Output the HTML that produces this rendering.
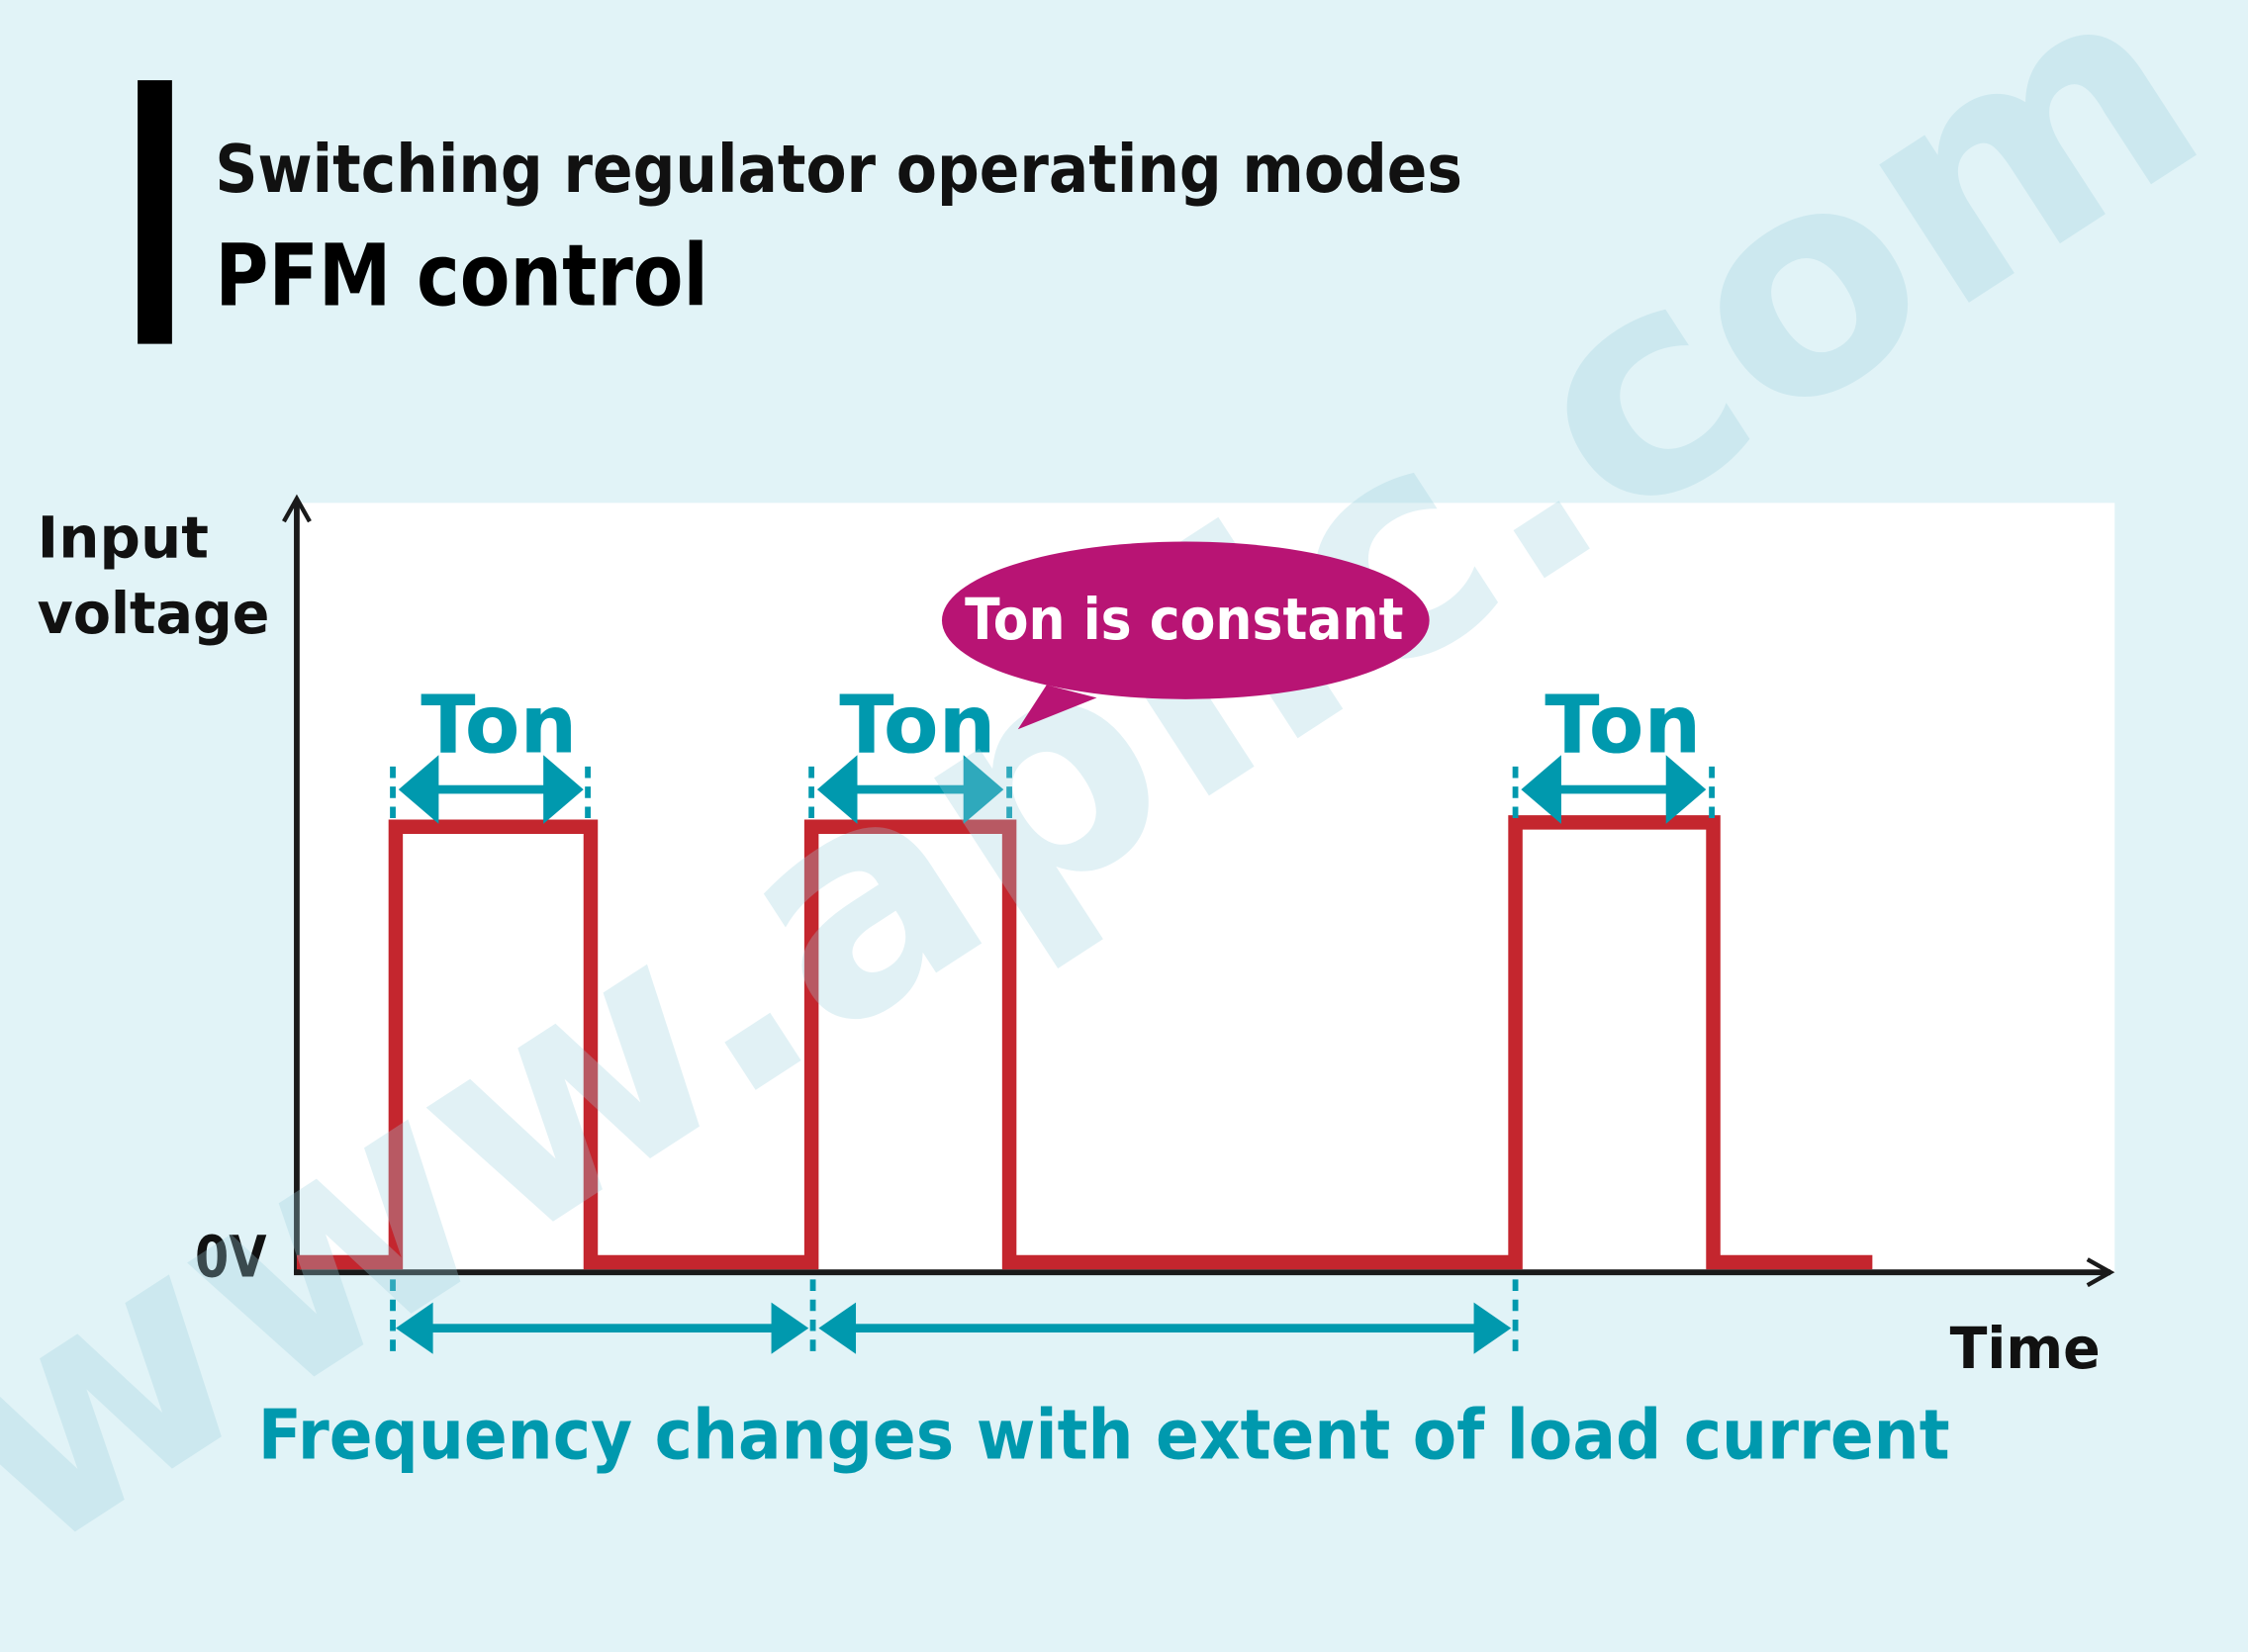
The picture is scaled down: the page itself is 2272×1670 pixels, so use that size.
<!DOCTYPE html>
<html><head><meta charset="utf-8"><style>
html,body{margin:0;padding:0;background:#e1f3f7;}
svg{display:block;}
text{font-family:"DejaVu Sans","Liberation Sans",sans-serif;font-weight:bold;}
</style></head><body>
<svg width="2272" height="1670" viewBox="0 0 1568 1153" preserveAspectRatio="none" xmlns="http://www.w3.org/2000/svg">
<rect width="1568" height="1153" fill="#e1f3f7"/>
<rect x="96" y="56" width="24" height="184" fill="#000"/>
<text x="150" y="134" font-size="46" fill="#111" textLength="870" lengthAdjust="spacingAndGlyphs">Switching regulator operating modes</text>
<text x="150" y="213" font-size="60" fill="#000" textLength="344" lengthAdjust="spacingAndGlyphs">PFM control</text>
<rect x="207" y="351" width="1268" height="537" fill="#fff"/>
<text x="26" y="389" font-size="40" fill="#111">Input</text>
<text x="26" y="442" font-size="40" fill="#111" textLength="162" lengthAdjust="spacingAndGlyphs">voltage</text>
<text x="136" y="891" font-size="40" fill="#111" textLength="50" lengthAdjust="spacingAndGlyphs">0V</text>
<text x="1360" y="955" font-size="40" fill="#111" textLength="105" lengthAdjust="spacingAndGlyphs">Time</text>
<line x1="207" y1="350" x2="207" y2="889" stroke="#1a1a1a" stroke-width="4"/>
<polyline points="198,364 207,348 216,364" fill="none" stroke="#1a1a1a" stroke-width="3"/>
<line x1="205" y1="888" x2="1472" y2="888" stroke="#1a1a1a" stroke-width="4"/>
<polyline points="1456,879 1472,888 1456,897" fill="none" stroke="#1a1a1a" stroke-width="3"/>
<polyline points="207,881 276,881 276,577 412,577 412,881 566,881 566,577 704,577 704,881 1057,881 1057,574 1195,574 1195,881 1306,881" fill="none" stroke="#c4262e" stroke-width="10"/>
<g fill="#0099ae">
<text x="348" y="525" font-size="56" text-anchor="middle">Ton</text>
<text x="640" y="525" font-size="56" text-anchor="middle">Ton</text>
<text x="1132" y="525" font-size="56" text-anchor="middle">Ton</text>
</g>
<g stroke="#0099ae" stroke-width="4" stroke-dasharray="8,6">
<line x1="274" y1="535" x2="274" y2="572"/><line x1="410" y1="535" x2="410" y2="572"/>
<line x1="566" y1="535" x2="566" y2="572"/><line x1="704" y1="535" x2="704" y2="572"/>
<line x1="1057" y1="535" x2="1057" y2="572"/><line x1="1194" y1="535" x2="1194" y2="572"/>
<line x1="274" y1="893" x2="274" y2="945"/><line x1="567" y1="893" x2="567" y2="945"/><line x1="1057" y1="893" x2="1057" y2="945"/>
</g>
<g fill="#0099ae">
<rect x="300" y="548" width="84" height="6"/>
<polygon points="278,551 306,527 306,575"/><polygon points="407,551 379,527 379,575"/>
<rect x="592" y="548" width="84" height="6"/>
<polygon points="570,551 598,527 598,575"/><polygon points="700,551 672,527 672,575"/>
<rect x="1083" y="548" width="84" height="6"/>
<polygon points="1061,551 1089,527 1089,575"/><polygon points="1190,551 1162,527 1162,575"/>
<rect x="298" y="924" width="246" height="6"/>
<polygon points="276,927 302,909 302,945"/><polygon points="564,927 538,909 538,945"/>
<rect x="594" y="924" width="440" height="6"/>
<polygon points="571,927 597,909 597,945"/><polygon points="1054,927 1028,909 1028,945"/>
</g>
<text x="180" y="1018" font-size="48" fill="#0099ae" textLength="1180" lengthAdjust="spacingAndGlyphs">Frequency changes with extent of load current</text>
<text x="0" y="0" font-size="210" fill="#9ccfdd" fill-opacity="0.3" transform="translate(20,1090) rotate(-33)" font-family="Liberation Sans, sans-serif" textLength="1820" lengthAdjust="spacingAndGlyphs">www.aplic.com</text>
<g fill="#b81474">
<ellipse cx="827" cy="433" rx="170" ry="55"/>
<polygon points="730,478 710,509 765,487"/>
</g>
<text x="826" y="446" font-size="40" fill="#fff" text-anchor="middle" textLength="306" lengthAdjust="spacingAndGlyphs">Ton is constant</text>
</svg>
</body></html>
